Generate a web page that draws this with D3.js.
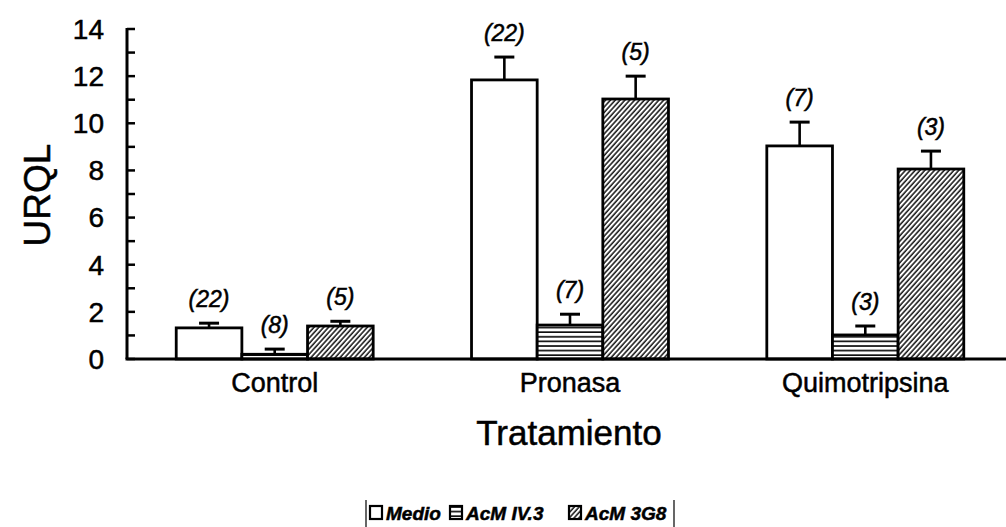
<!DOCTYPE html>
<html>
<head>
<meta charset="utf-8">
<script src="https://cdn.jsdelivr.net/npm/d3@7"></script>
<style>
  body { margin: 0; background: #fff; }
  text { font-family: "Liberation Sans", Arial, sans-serif; fill: #000; stroke: #000; stroke-width: 0.5px; }
</style>
</head>
<body>
<div id="chart"></div>
<script>
// data
var treatments = ["Control", "Pronasa", "Quimotripsina"];
var series = ["Medio", "AcM IV.3", "AcM 3G8"];
var medio = [1.32, 11.84, 9.04];
var acmIV3 = [0.2, 1.44, 1.02];
var acm3G8 = [1.4, 11.03, 8.06];
var medioErr = [0.2, 0.97, 1.01];
var acmIV3Err = [0.22, 0.46, 0.38];
var acm3G8Err = [0.2, 0.97, 0.76];
var medioN = ["(22)", "(22)", "(7)"];
var acmIV3N = ["(8)", "(7)", "(3)"];
var acm3G8N = ["(5)", "(5)", "(3)"];
var yTicks = [0, 2, 4, 6, 8, 10, 12, 14];

var W = 1006, H = 527;
var margin = {t: 29, r: 0, b: 168, l: 127};

var svg = d3.select("#chart").append("svg")
  .attr("width", W).attr("height", H);

var defs = svg.append("defs");

// horizontal stripes for AcM IV.3
var pH = defs.append("pattern").attr("id", "horiz")
  .attr("patternUnits", "userSpaceOnUse")
  .attr("width", 8).attr("height", 4.6);
pH.append("rect").attr("width", 8).attr("height", 4.6).attr("fill", "#fff");
pH.append("line").attr("x1", 0).attr("x2", 8).attr("y1", 1).attr("y2", 1)
  .attr("stroke", "#000").attr("stroke-width", 1.6);

// diagonal hatch for AcM 3G8
var pD = defs.append("pattern").attr("id", "diag")
  .attr("patternUnits", "userSpaceOnUse")
  .attr("width", 3.6).attr("height", 10)
  .attr("patternTransform", "rotate(42)");
pD.append("rect").attr("width", 3.6).attr("height", 10).attr("fill", "#fff");
pD.append("line").attr("x1", 1).attr("x2", 1).attr("y1", 0).attr("y2", 10)
  .attr("stroke", "#000").attr("stroke-width", 1.4);

var fills = ["#fff", "url(#horiz)", "url(#diag)"];

var rows = treatments.map(function(t, i) {
  return {
    t: t,
    bars: [
      {s: 0, v: medio[i], e: medioErr[i], n: medioN[i]},
      {s: 1, v: acmIV3[i], e: acmIV3Err[i], n: acmIV3N[i]},
      {s: 2, v: acm3G8[i], e: acm3G8Err[i], n: acm3G8N[i]}
    ]
  };
});

var x0 = d3.scaleBand().domain(treatments)
  .range([margin.l, 1013])
  .paddingInner(0.333).paddingOuter(0.1667);
var x1 = d3.scaleBand().domain([0, 1, 2]).range([0, x0.bandwidth()]);
var y = d3.scaleLinear().domain([0, 14]).range([H - margin.b, margin.t]);

var g = svg.selectAll(".grp").data(rows).enter().append("g")
  .attr("transform", function(d) { return "translate(" + x0(d.t) + ",0)"; });

var bar = g.selectAll(".bar").data(function(d) { return d.bars; }).enter().append("g");

bar.append("rect")
  .attr("x", function(d) { return x1(d.s); })
  .attr("y", function(d) { return y(d.v); })
  .attr("width", x1.bandwidth())
  .attr("height", function(d) { return y(0) - y(d.v); })
  .attr("fill", function(d) { return fills[d.s]; })
  .attr("stroke", "#000").attr("stroke-width", 2.8);

// error bars
bar.append("line")
  .attr("x1", function(d) { return x1(d.s) + x1.bandwidth() / 2; })
  .attr("x2", function(d) { return x1(d.s) + x1.bandwidth() / 2; })
  .attr("y1", function(d) { return y(d.v); })
  .attr("y2", function(d) { return y(d.v + d.e); })
  .attr("stroke", "#000").attr("stroke-width", 2.6);
bar.append("line")
  .attr("x1", function(d) { return x1(d.s) + x1.bandwidth() / 2 - 10; })
  .attr("x2", function(d) { return x1(d.s) + x1.bandwidth() / 2 + 10; })
  .attr("y1", function(d) { return y(d.v + d.e); })
  .attr("y2", function(d) { return y(d.v + d.e); })
  .attr("stroke", "#000").attr("stroke-width", 3);

bar.append("text")
  .attr("x", function(d) { return x1(d.s) + x1.bandwidth() / 2; })
  .attr("y", function(d) { return y(d.v + d.e) - 16; })
  .attr("text-anchor", "middle")
  .style("font-size", "23px").style("font-style", "italic")
  .text(function(d) { return d.n; });

// y axis, ticks every unit pointing inward
var yAxis = svg.append("g");
yAxis.append("line")
  .attr("x1", margin.l).attr("x2", margin.l)
  .attr("y1", y(14) - 1).attr("y2", y(0))
  .attr("stroke", "#000").attr("stroke-width", 3);
yAxis.selectAll(".tk").data(d3.range(0, 15)).enter().append("line")
  .attr("x1", margin.l).attr("x2", margin.l + 8)
  .attr("y1", function(d) { return y(d); })
  .attr("y2", function(d) { return y(d); })
  .attr("stroke", "#000").attr("stroke-width", 2.5);
yAxis.selectAll(".lb").data(yTicks).enter().append("text")
  .attr("x", 104).attr("y", function(d) { return y(d); })
  .attr("dy", "0.35em").attr("text-anchor", "end")
  .style("font-size", "28px")
  .text(function(d) { return d; });

// x axis line
svg.append("line")
  .attr("x1", margin.l - 1.5).attr("x2", W)
  .attr("y1", y(0)).attr("y2", y(0))
  .attr("stroke", "#000").attr("stroke-width", 3);

svg.selectAll(".cat").data(treatments).enter().append("text")
  .attr("x", function(d) { return x0(d) + x0.bandwidth() / 2; })
  .attr("y", 392)
  .attr("text-anchor", "middle")
  .style("font-size", "27px")
  .text(function(d) { return d; });

svg.append("text")
  .attr("x", 569).attr("y", 445)
  .attr("text-anchor", "middle")
  .style("font-size", "35px")
  .text("Tratamiento");

svg.append("text")
  .attr("transform", "translate(50,195) rotate(-90)")
  .attr("text-anchor", "middle")
  .style("font-size", "37px")
  .text("URQL");

// legend
var leg = svg.append("g");
var legX = [370, 450, 569];
var legFills = ["#fff", "url(#horiz)", "url(#diag)"];
var li = leg.selectAll(".li").data(series).enter().append("g")
  .attr("transform", function(d, i) { return "translate(" + legX[i] + ",506)"; });
li.append("rect").attr("width", 12).attr("height", 13)
  .attr("fill", function(d, i) { return legFills[i]; })
  .attr("stroke", "#000").attr("stroke-width", 2.2);
li.append("text").attr("x", 16).attr("y", 14)
  .style("font-size", "19px").style("font-style", "italic").style("font-weight", "bold")
  .text(function(d) { return d; });
leg.append("line").attr("x1", 366).attr("x2", 366).attr("y1", 500).attr("y2", 527)
  .attr("stroke", "#000").attr("stroke-width", 1.2);
leg.append("line").attr("x1", 674).attr("x2", 674).attr("y1", 500).attr("y2", 527)
  .attr("stroke", "#000").attr("stroke-width", 1.2);
</script>
</body>
</html>
